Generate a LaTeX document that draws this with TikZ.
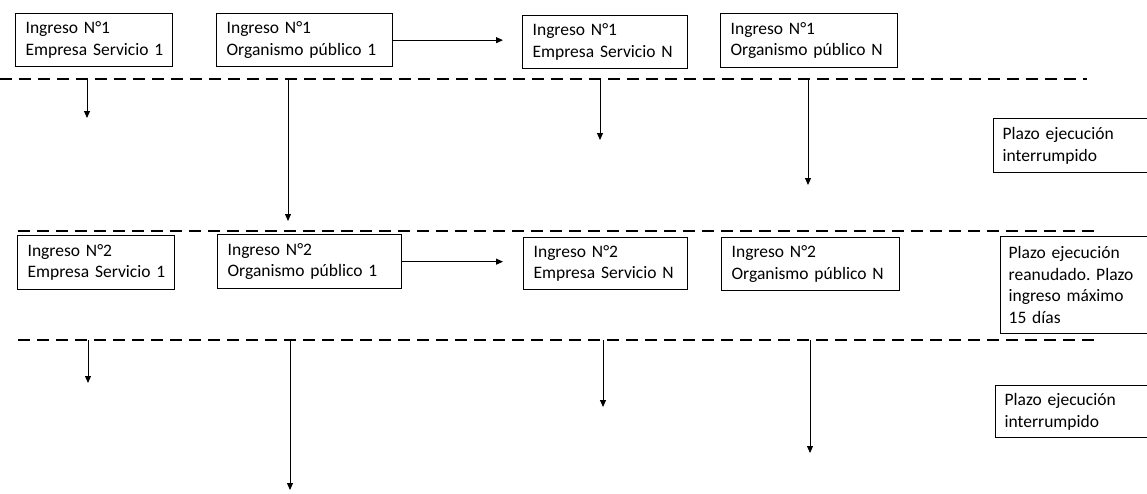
\documentclass[tikz,border=0pt]{standalone}
\usepackage{fontspec}
\setmainfont{Carlito}
\usetikzlibrary{arrows.meta}
\frenchspacing
\begin{document}
\begin{tikzpicture}[x=1pt,y=-1pt,
 box/.style={draw, line width=1.3pt, anchor=north west, align=left, inner xsep=10pt, inner ysep=0pt,
   font=\fontsize{17.5}{21.5}\selectfont},
 rbox/.style={box, inner xsep=9pt},
 sep/.style={line width=2.2pt, dash pattern=on 12pt off 7pt},
 arr/.style={line width=1pt, -{Triangle[length=7pt,width=6pt]}},
]
\useasboundingbox (0,0) rectangle (1147,493);

% row 1
\node[box, minimum width=157pt, minimum height=53pt, text width=137pt] (a1) at (15,13) {\mbox{Ingreso N°1}\\\mbox{Empresa Servicio 1}};
\node[box, minimum width=176pt, minimum height=53pt, text width=156pt] (b1) at (216,13) {\mbox{Ingreso N°1}\\\mbox{Organismo público 1}};
\node[box, minimum width=165pt, minimum height=53pt, text width=145pt] (c1) at (522,15) {\mbox{Ingreso N°1}\\\mbox{Empresa Servicio N}};
\node[box, minimum width=177pt, minimum height=54pt, text width=157pt] (d1) at (720,13) {\mbox{Ingreso N°1}\\\mbox{Organismo público N}};
\node[rbox, minimum width=160pt, minimum height=54pt, text width=142pt] (r1) at (993,118) {Plazo ejecución\\interrumpido};

% row 2
\node[box, minimum width=157pt, minimum height=54pt, text width=137pt] (a2) at (17,235) {\mbox{Ingreso N°2}\\\mbox{Empresa Servicio 1}};
\node[box, minimum width=184pt, minimum height=54pt, text width=164pt] (b2) at (217,234) {\mbox{Ingreso N°2}\\\mbox{Organismo público 1}};
\node[box, minimum width=164pt, minimum height=52pt, text width=144pt] (c2) at (523,237) {\mbox{Ingreso N°2}\\\mbox{Empresa Servicio N}};
\node[box, minimum width=178pt, minimum height=53pt, text width=158pt] (d2) at (721,237) {\mbox{Ingreso N°2}\\\mbox{Organismo público N}};
\node[rbox, inner xsep=8pt, minimum width=155pt, minimum height=97pt, text width=139pt] (r2) at (1000,236) {Plazo ejecución\\reanudado. Plazo\\ingreso máximo\\15 días};
\node[rbox, minimum width=160pt, minimum height=52pt, text width=142pt] (r3) at (995,385) {Plazo ejecución\\interrumpido};

% separators
\coordinate (l1a) at (0,79);   \coordinate (l1b) at (1087,79);
\coordinate (l2a) at (18,231); \coordinate (l2b) at (1097,231);
\coordinate (l3a) at (18,340); \coordinate (l3b) at (1097,340);
\draw[sep] (l1a) -- (l1b);
\draw[sep] (l2a) -- (l2b);
\draw[sep] (l3a) -- (l3b);

% horizontal arrows
\draw[arr, shorten >=19pt] (b1.east) -- (b1.east -| c1.west);
\draw[arr, shorten >=20pt] (b2.east) -- (b2.east -| c2.west);

% vertical arrows after first line
\coordinate (p1) at (87,79);  \coordinate (q1) at (87,118);
\coordinate (p2) at (288,79); \coordinate (q2) at (288,221);
\coordinate (p3) at (600,79); \coordinate (q3) at (600,140);
\coordinate (p4) at (808,79); \coordinate (q4) at (808,185);
\draw[arr] (p1) -- (q1);
\draw[arr] (p2) -- (q2);
\draw[arr] (p3) -- (q3);
\draw[arr] (p4) -- (q4);

% vertical arrows after third line
\coordinate (u1) at (88,340);  \coordinate (v1) at (88,383);
\coordinate (u2) at (290,340); \coordinate (v2) at (290,490);
\coordinate (u3) at (603,340); \coordinate (v3) at (603,407);
\coordinate (u4) at (810,340); \coordinate (v4) at (810,453);
\draw[arr] (u1) -- (v1);
\draw[arr] (u2) -- (v2);
\draw[arr] (u3) -- (v3);
\draw[arr] (u4) -- (v4);
\end{tikzpicture}
\end{document}
